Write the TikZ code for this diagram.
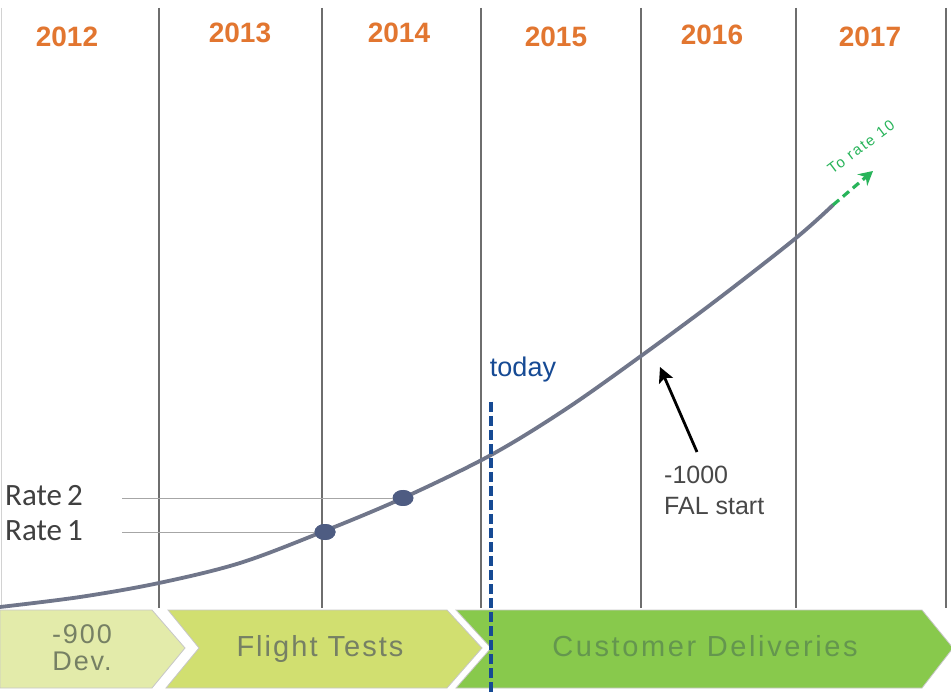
\documentclass[tikz,border=0pt]{standalone}
\usepackage{fontspec}
\setmainfont{Liberation Sans}
\newfontfamily\carl{Carlito}
\newfontfamily\spaced[LetterSpace=7]{Liberation Sans}
\newfontfamily\spacedw[LetterSpace=9]{Liberation Sans}
\newfontfamily\spacedg[LetterSpace=12]{Liberation Sans}
\usetikzlibrary{arrows.meta,shapes.geometric}
\definecolor{yearc}{RGB}{226,118,48}
\definecolor{gridc}{RGB}{110,110,110}
\definecolor{curvec}{RGB}{112,118,138}
\definecolor{dotc}{RGB}{78,92,130}
\definecolor{todayc}{RGB}{22,74,148}
\definecolor{devc}{RGB}{227,235,170}
\definecolor{flightc}{RGB}{209,223,112}
\definecolor{custc}{RGB}{136,201,76}
\definecolor{bandtxt}{RGB}{118,128,100}
\definecolor{custtxt}{RGB}{100,150,78}
\definecolor{greenarr}{RGB}{40,180,90}
\definecolor{faltxt}{RGB}{72,72,72}
\tikzset{
  year/.style={text=yearc, font=\fontsize{28}{28}\selectfont\bfseries, inner sep=0pt, anchor=base},
  gridline/.style={draw=gridc, line width=1.4pt},
  ratelabel/.style={font=\carl\fontsize{31}{31}\selectfont, text=black!75, inner sep=0pt, anchor=base west},
  rateline/.style={draw=gray!70, line width=0.7pt},
  ratedot/.style={ellipse, fill=dotc, minimum width=21pt, minimum height=16pt, inner sep=0pt},
  bandshape/.style={draw=black!22, line width=0.8pt},
  bandtext/.style={inner sep=0pt, anchor=base},
}
\begin{document}
\begin{tikzpicture}[x=1pt, y=-1pt]
\useasboundingbox (0,0) rectangle (951,692);
\fill[white] (0,0) rectangle (951,692);
\draw[draw=gray!35, line width=1pt] (1,8) -- (1,608);
% grid lines
\foreach \x in {159,322,481,641,796,946}
  \draw[gridline] (\x,8) -- (\x,609);
% years
\node[year] (y12) at (67,47) {2012};
\node[year] (y13) at (240,43) {2013};
\node[year] (y14) at (399,43) {2014};
\node[year] (y15) at (556,47) {2015};
\node[year] (y16) at (712,45) {2016};
\node[year] (y17) at (870,47) {2017};
% band
\fill[white] (0,608) rectangle (951,692);
\draw[bandshape, fill=devc] (0,610) -- (152,610) -- (185,648) -- (152,688) -- (0,688) -- cycle;
\draw[bandshape, fill=flightc] (168,610) -- (447,610) -- (482,648) -- (447,688) -- (166,688) -- (199,648) -- cycle;
\draw[bandshape, fill=custc] (456,610) -- (922,610) -- (953,648) -- (922,688) -- (456,688) -- (491,648) -- cycle;
\node[text=bandtxt, align=center, font=\spaced\fontsize{27}{27}\selectfont, inner sep=0pt, anchor=center] (dev) at (82,648) {-900\\Dev.};
\node[bandtext, text=bandtxt, font=\spaced\fontsize{29}{29}\selectfont] (flight) at (320,656) {Flight Tests};
\node[bandtext, text=custtxt, font=\spacedw\fontsize{29}{29}\selectfont] (cust) at (705,656) {Customer Deliveries};
% rate lines
\node[ratedot] (r1) at (325,532) {};
\node[ratedot] (r2) at (403,498) {};
\coordinate (r1s) at (122,532);
\coordinate (r2s) at (122,498);
\draw[rateline] (r1s) -- (r1.center);
\draw[rateline] (r2s) -- (r2.center);
\node[ratelabel] (rl2) at (5,505) {Rate\,2};
\node[ratelabel] (rl1) at (5,540) {Rate\,1};
% curve
\coordinate (cend) at (833,205);
\coordinate (gend) at (873,171);
\draw[curvec, line width=3.8pt, line cap=round] plot[smooth, tension=0.55] coordinates
  {(0,607) (80,597) (159,583) (240,563) (322,532) (403,498) (491,455) (566,409) (641,356) (718,299) (796,238) (833,205)};
\fill[dotc] (r1) ellipse (10.5pt and 8pt);
\fill[dotc] (r2) ellipse (10pt and 8pt);
\draw[greenarr, line width=3.2pt, dash pattern=on 8pt off 5pt, -{Stealth[length=14pt, width=15pt]}] (cend) -- (gend);
\node[text=greenarr, font=\spacedg\fontsize{15}{15}\selectfont, rotate=37, inner sep=0pt] (torate) at (861,147) {To rate 10};
% today
\node[text=todayc, font=\fontsize{27}{27}\selectfont, inner sep=0pt, anchor=base] (today) at (523,377) {today};
\coordinate (tbot) at (491,692);
\coordinate (ttop) at (491,402);
\draw[todayc, line width=3.2pt, dash pattern=on 10pt off 4pt] (ttop) -- (tbot);
% FAL arrow
\node[text=faltxt, font=\fontsize{25}{31}\selectfont, align=left, anchor=north west, inner sep=0pt] (fal) at (664,466) {-1000\\FAL start};
\coordinate (falfrom) at (697,452);
\coordinate (falto) at (660,367);
\draw[black, line width=2.8pt, -{Stealth[length=15pt, width=15pt, inset=3pt]}] (falfrom) -- (falto);
\end{tikzpicture}
\end{document}
